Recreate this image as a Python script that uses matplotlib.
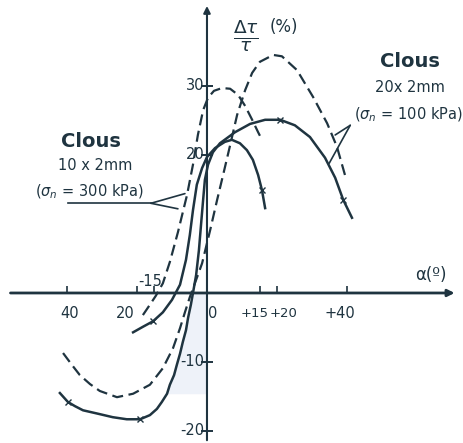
import matplotlib
matplotlib.use("Agg")
import matplotlib.pyplot as plt

INK = "#1f3440"

# Clous 20 x 2 mm, dashed branch (alpha in deg, dtau/tau in %)
alpha_20_dash = [-41.1, -38.6, -36.3, -33.4, -30.6, -25.7, -21.1, -16.3, -12.6, -9.7,
                 -7.7, -6.3, -4.9, -3.1, -1.4, 0.9, 2.9, 4.6, 6.6, 8.6, 10.9, 12.9,
                 15.1, 18.9, 21.4, 25.7, 30.3, 34.3, 37.1, 39.4]
dtau_20_dash = [-8.7, -10.4, -11.9, -13.2, -14.2, -15.1, -14.6, -13.3, -10.9, -8.0,
                -5.1, -2.8, -0.6, 1.9, 4.3, 9.1, 13.5, 17.1, 21.4, 25.8, 29.4, 31.9,
                33.5, 34.5, 34.3, 32.3, 28.4, 24.6, 21.2, 17.1]

# Clous 20 x 2 mm, solid branch
alpha_20_solid = [-42.0, -39.7, -37.7, -35.4, -31.1, -26.9, -22.9, -19.1, -16.3, -14.3,
                  -12.9, -11.4, -10.6, -9.4, -8.6, -7.7, -6.9, -6.0, -5.4, -4.6, -4.0,
                  -3.1, -2.3, -1.7, -1.1, -0.6, 0.3, 1.7, 3.7, 8.0, 12.3, 16.6, 20.9,
                  25.1, 29.4, 33.7, 36.6, 38.9, 41.4]
dtau_20_solid = [-14.5, -15.8, -16.4, -17.0, -17.5, -18.0, -18.3, -18.3, -17.7, -16.8,
                 -15.8, -14.6, -13.3, -11.9, -10.4, -8.8, -7.1, -5.4, -3.6, -1.7, 0.0,
                 2.6, 6.2, 9.9, 13.5, 16.4, 18.6, 20.4, 21.7, 23.3, 24.5, 25.1, 25.1,
                 24.3, 22.6, 19.6, 16.7, 13.5, 10.9]

# Clous 10 x 2 mm, dashed branch
alpha_10_dash = [-18.3, -16.3, -14.6, -12.6, -10.6, -8.3, -5.7, -4.0, -2.6, -1.1,
                 0.3, 2.0, 4.3, 6.6, 8.9, 10.9, 12.9, 14.6, 15.7]
dtau_10_dash = [-3.2, -1.7, -0.4, 1.4, 4.5, 8.8, 14.2, 18.6, 22.9, 26.5,
                28.3, 29.3, 29.7, 29.6, 28.7, 27.1, 25.1, 23.3, 22.2]

# Clous 10 x 2 mm, solid branch
alpha_10_solid = [-21.1, -18.3, -15.4, -12.6, -10.0, -7.7, -6.0, -4.9, -4.0, -2.9,
                  -1.4, 0.0, 2.3, 5.1, 7.1, 9.4, 11.4, 13.1, 14.6, 15.7, 16.6]
dtau_10_solid = [-5.7, -4.9, -4.1, -2.8, -1.0, 1.2, 4.8, 8.4, 12.0, 15.7,
                 18.1, 19.7, 21.0, 21.9, 22.2, 21.7, 20.7, 19.3, 17.1, 14.9, 12.3]

x_ticks = [-40, -20, -15, 15, 20, 40]
x_tick_labels = ["40", "20", "-15", "0", "+15", "+20", "+40"]
x_label_pos = [-39.1, -23.4, -16.3, 1.7, 13.6, 21.9, 37.9]
y_ticks = [30, 20, -10, -20]
y_tick_labels = ["30", "20", "-10", "-20"]

fig = plt.figure(figsize=(4.63, 4.43), dpi=100)
ax = fig.add_axes([0, 0, 1, 1])
ax.set_xlim(-59.1, 73.1)
ax.set_ylim(-21.74, 42.46)
ax.axis("off")

# faint tint between the rising solid branch and the ordinate, below zero
neg = [(a, d) for a, d in zip(alpha_20_solid, dtau_20_solid) if -15.0 < d <= 0 and a > -14]
ax.fill_betweenx([d for _, d in neg], [a for a, _ in neg], 0,
                 color="#eef2f9", lw=0, zorder=0)

dash = (0, (5, 2.5))
ax.plot(alpha_20_dash, dtau_20_dash, color=INK, lw=1.6, ls=dash)
ax.plot(alpha_10_dash, dtau_10_dash, color=INK, lw=1.6, ls=dash)
ax.plot(alpha_20_solid, dtau_20_solid, color=INK, lw=1.8)
ax.plot(alpha_10_solid, dtau_10_solid, color=INK, lw=1.8)

# small cross marks on the solid branches
m20 = (1, 7, 32, 37)
m10 = (2, 19)
ax.plot([alpha_20_solid[i] for i in m20], [dtau_20_solid[i] for i in m20],
        ls="none", marker="x", ms=4, mew=1.0, color=INK)
ax.plot([alpha_10_solid[i] for i in m10], [dtau_10_solid[i] for i in m10],
        ls="none", marker="x", ms=4, mew=1.0, color=INK)

# axes with arrow heads
ax.annotate("", xy=(71.5, 0), xytext=(-56.9, 0),
            arrowprops=dict(arrowstyle="-|>", color=INK, lw=2.0, mutation_scale=10))
ax.annotate("", xy=(0, 42.0), xytext=(0, -21.74),
            arrowprops=dict(arrowstyle="-|>", color=INK, lw=1.5, mutation_scale=10))

ax.plot(x_ticks, [0] * len(x_ticks), ls="none", marker=2, ms=5, mew=1.2, color=INK)
ax.plot([0] * len(y_ticks), y_ticks, ls="none", marker="_", ms=8, mew=1.4, color=INK)

tick_font = dict(fontsize=10.5, color=INK, family="DejaVu Sans")
for lab, xp in zip(x_tick_labels, x_label_pos):
    yp = 1.7 if lab == "-15" else -3.0
    size = 9.5 if lab in ("+15", "+20") else 10.5
    ax.text(xp, yp, lab, ha="center", va="center",
            **{**tick_font, "fontsize": size})
for lab, yv in zip(y_tick_labels, y_ticks):
    ax.text(-0.8, yv, lab, ha="right", va="center", **tick_font)

ax.text(11.0, 37.3, r"$\frac{\Delta\tau}{\tau}$", fontsize=19, color=INK,
        ha="center", va="center")
ax.text(17.8, 38.5, "(%)", fontsize=12, color=INK, ha="left", va="center")
ax.text(64.0, 2.6, "α(º)", fontsize=12, color=INK, ha="center", va="center")

# captions for the two nail sizes
ax.text(-33.0, 22.0, "Clous", fontsize=14, color=INK, ha="center", va="center",
        fontweight="bold")
ax.text(-32.0, 18.5, "10 x 2mm", fontsize=10.5, color=INK, ha="center", va="center")
ax.text(-33.5, 14.6, r"($\sigma_n$ = 300 kPa)", fontsize=10.5, color=INK,
        ha="center", va="center")
ax.text(58.0, 33.5, "Clous", fontsize=14, color=INK, ha="center", va="center",
        fontweight="bold")
ax.text(58.0, 29.8, "20x 2mm", fontsize=10.5, color=INK, ha="center", va="center")
ax.text(57.5, 25.8, r"($\sigma_n$ = 100 kPa)", fontsize=10.5, color=INK,
        ha="center", va="center")

# leader lines from the captions to their curves
lead = dict(arrowstyle="-", color=INK, lw=1.2, shrinkA=0, shrinkB=0)
ax.plot([-39.7, -16.0], [13.0, 13.0], color=INK, lw=1.2)
ax.annotate("", xy=(-6.3, 14.4), xytext=(-16.0, 13.0), arrowprops=lead)
ax.annotate("", xy=(-8.3, 12.2), xytext=(-16.0, 13.0), arrowprops=lead)
ax.annotate("", xy=(36.6, 22.9), xytext=(40.9, 24.3), arrowprops=lead)
ax.annotate("", xy=(34.9, 18.8), xytext=(40.9, 24.3), arrowprops=lead)

fig.savefig("out.png", dpi=100)
